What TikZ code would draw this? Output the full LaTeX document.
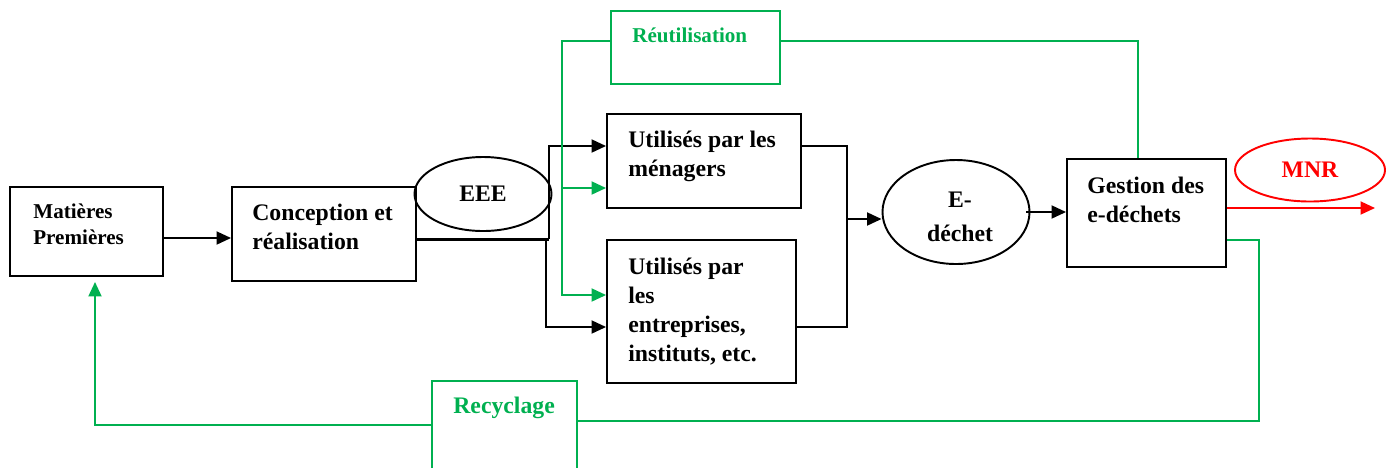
\documentclass[tikz,border=0pt]{standalone}
\usepackage{fontspec}
\setmainfont{Liberation Serif}
\usetikzlibrary{shapes.geometric, arrows.meta}
\definecolor{vert}{RGB}{0,176,80}
\tikzstyle{box} = [draw, line width=1.1pt, rectangle, inner sep=0pt]
\tikzstyle{gbox} = [draw=vert, line width=0.9pt, rectangle, inner sep=0pt]
\tikzstyle{oval} = [draw, line width=1.1pt, ellipse, inner sep=0pt, align=center, font=\fontsize{13.5}{19}\selectfont\bfseries]
\tikzstyle{txt} = [inner sep=0pt, align=left, anchor=base west, font=\fontsize{13.5}{16.4}\selectfont\bfseries]
\tikzstyle{arrow} = [line width=1.1pt,-{Triangle[length=0.29cm,width=0.26cm]}]
\tikzstyle{garrow} = [arrow, color=vert]

\begin{document}
\begin{tikzpicture}
\useasboundingbox (0,0) rectangle (27.8,-9.34);
% boxes
\node[box, minimum width=3.06cm, minimum height=1.78cm] (mp) at (1.73,-4.63) {};
\node[box, minimum width=3.68cm, minimum height=1.88cm] (conc) at (6.48,-4.68) {};
\node[box, minimum width=3.88cm, minimum height=1.88cm] (men) at (14.08,-3.22) {};
\node[box, minimum width=3.78cm, minimum height=2.86cm] (ent) at (14.03,-6.23) {};
\node[box, minimum width=3.18cm, minimum height=2.16cm] (gest) at (22.93,-4.26) {};
\node[gbox, minimum width=3.38cm, minimum height=1.46cm] (reu) at (13.91,-0.95) {};
\node[gbox, minimum width=2.9cm, minimum height=1.98cm] (rec) at (10.09,-8.61) {};
% ovals
\node[oval, minimum width=2.74cm, minimum height=1.48cm] (eee) at (9.66,-3.88) {EEE};
\node[oval, minimum width=2.94cm, minimum height=2.08cm] (dech) at (19.12,-4.24) {};
\node[oval, draw=none] (dechtxt) at (19.2,-4.34) {E-\\déchet};
\node[oval, draw=red, text=red, minimum width=3.0cm, minimum height=1.26cm] (mnr) at (26.2,-3.4) {MNR};
% texts (base = last line)
\node[txt, font=\fontsize{12}{14.5}\selectfont\bfseries] (mptxt) at (0.66,-4.88) {Matières\\Premières};
\node[txt] (conctxt) at (5.04,-4.98) {Conception et\\réalisation};
\node[txt] (mentxt) at (12.56,-3.52) {Utilisés par les\\ménagers};
\node[txt] (enttxt) at (12.56,-7.22) {Utilisés par\\les\\entreprises,\\instituts, etc.};
\node[txt] (gesttxt) at (21.74,-4.44) {Gestion des\\e-déchets};
\node[txt, text=vert, font=\fontsize{12}{14.5}\selectfont\bfseries] (reutxt) at (12.64,-0.84) {Réutilisation};
\node[txt, text=vert] (rectxt) at (9.06,-8.26) {Recyclage};
% connectors
\coordinate (split) at (10.98,-4.78);
\coordinate (join) at (16.94,-4.38);
\coordinate (gtop) at (11.24,-0.82);
\coordinate (recr) at (25.18,-8.42);
\coordinate (mnrend) at (27.5,-4.16);
\coordinate (menin) at ([yshift=-0.54cm]men.west);
\draw[arrow] ([yshift=-0.13cm]mp.east) -- ([yshift=-0.08cm]conc.west);
\draw[line width=1.7pt] ([yshift=-0.1cm]conc.east) -- (split);
\draw[arrow] (split) |- ([yshift=0.3cm]men.west);
\draw[arrow] ([xshift=-0.06cm]split) |- ([yshift=-0.31cm]ent.west);
\draw[line width=1.1pt] ([yshift=0.3cm]men.east) -| (join);
\draw[line width=1.1pt] ([yshift=-0.31cm]ent.east) -| (join);
\draw[arrow] (join) -- (join -| dech.west);
\draw[arrow] ([xshift=-0.08cm]dech.east) -- (dech.east -| gest.west);
\draw[arrow, color=red] (gest.east |- mnrend) -- (mnrend);
\draw[garrow] ([yshift=0.13cm]reu.west) -- (gtop) |- ([yshift=0.33cm]ent.west);
\draw[garrow] (menin -| gtop) -- (menin);
\draw[line width=1.1pt, vert] ([yshift=0.13cm]reu.east) -| ([xshift=-0.17cm]gest.north);
\draw[line width=1.1pt, vert] ([yshift=-0.54cm]gest.east) -| (recr) -- (recr -| rec.east);
\draw[garrow, shorten >=0.1cm] ([yshift=0.11cm]rec.west) -| ([xshift=0.17cm]mp.south);
\end{tikzpicture}
\end{document}
